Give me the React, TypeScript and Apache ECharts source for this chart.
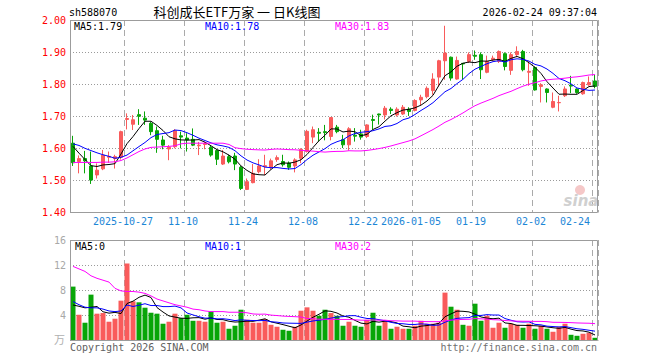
import React, { useEffect, useRef } from 'react';
import * as echarts from 'echarts';

const FONT = '"DejaVu Sans Mono", monospace';

const dates = [
  '2025-10-14','2025-10-15','2025-10-16','2025-10-17','2025-10-20','2025-10-21','2025-10-22','2025-10-23','2025-10-24','2025-10-27',
  '2025-10-28','2025-10-29','2025-10-30','2025-10-31','2025-11-03','2025-11-04','2025-11-05','2025-11-06','2025-11-07','2025-11-10',
  '2025-11-11','2025-11-12','2025-11-13','2025-11-14','2025-11-17','2025-11-18','2025-11-19','2025-11-20','2025-11-21','2025-11-24',
  '2025-11-25','2025-11-26','2025-11-27','2025-11-28','2025-12-01','2025-12-02','2025-12-03','2025-12-04','2025-12-05','2025-12-08',
  '2025-12-09','2025-12-10','2025-12-11','2025-12-12','2025-12-15','2025-12-16','2025-12-17','2025-12-18','2025-12-19','2025-12-22',
  '2025-12-23','2025-12-24','2025-12-25','2025-12-26','2025-12-29','2025-12-30','2025-12-31','2026-01-05','2026-01-06','2026-01-07',
  '2026-01-08','2026-01-09','2026-01-12','2026-01-13','2026-01-14','2026-01-15','2026-01-16','2026-01-19','2026-01-20','2026-01-21',
  '2026-01-22','2026-01-23','2026-01-26','2026-01-27','2026-01-28','2026-01-29','2026-01-30','2026-02-02','2026-02-03','2026-02-04',
  '2026-02-05','2026-02-06','2026-02-09','2026-02-10','2026-02-11','2026-02-12','2026-02-13','2026-02-24'
];

const opens = [
  1.616,1.559,1.568,1.545,1.517,1.536,1.572,1.568,1.572,1.690,
  1.675,1.705,1.694,1.678,1.655,1.626,1.598,1.605,1.639,1.632,
  1.628,1.608,1.612,1.603,1.593,1.551,1.574,1.576,1.541,1.472,
  1.493,1.527,1.543,1.540,1.565,1.559,1.554,1.545,1.569,1.590,
  1.635,1.650,1.652,1.637,1.666,1.627,1.611,1.641,1.645,1.637,
  1.690,1.707,1.704,1.722,1.704,1.707,1.722,1.718,1.751,1.761,
  1.780,1.822,1.873,1.884,1.816,1.865,1.871,1.890,1.892,1.837,
  1.876,1.871,1.895,1.843,1.892,1.902,1.837,1.852,1.793,1.785,
  1.728,1.742,1.764,1.797,1.785,1.770,1.798,1.810
];
const closes = [
  1.555,1.568,1.561,1.501,1.532,1.579,1.575,1.574,1.652,1.693,
  1.689,1.700,1.688,1.652,1.628,1.610,1.603,1.655,1.635,1.626,
  1.610,1.610,1.615,1.579,1.566,1.576,1.558,1.551,1.475,1.496,
  1.522,1.545,1.546,1.561,1.571,1.549,1.541,1.564,1.597,1.653,
  1.658,1.647,1.649,1.696,1.652,1.611,1.661,1.638,1.635,1.673,
  1.687,1.704,1.725,1.718,1.722,1.728,1.715,1.749,1.759,1.787,
  1.816,1.873,1.897,1.819,1.874,1.863,1.892,1.887,1.845,1.871,
  1.881,1.902,1.855,1.892,1.902,1.845,1.840,1.782,1.798,1.774,
  1.746,1.743,1.785,1.794,1.774,1.805,1.805,1.793
];
const lows = [
  1.545,1.522,1.522,1.489,1.506,1.532,1.555,1.537,1.565,1.659,
  1.657,1.673,1.673,1.641,1.586,1.597,1.563,1.600,1.600,1.590,
  1.607,1.579,1.597,1.574,1.548,1.548,1.553,1.532,1.470,1.470,
  1.491,1.522,1.517,1.534,1.558,1.543,1.533,1.525,1.554,1.587,
  1.616,1.621,1.625,1.625,1.647,1.601,1.593,1.621,1.627,1.632,
  1.658,1.674,1.690,1.707,1.699,1.704,1.701,1.715,1.735,1.756,
  1.767,1.793,1.814,1.811,1.814,1.816,1.866,1.876,1.816,1.834,
  1.871,1.866,1.843,1.829,1.884,1.840,1.795,1.780,1.743,1.743,
  1.725,1.715,1.760,1.772,1.770,1.767,1.795,1.787
];
const highs = [
  1.639,1.578,1.592,1.590,1.553,1.595,1.590,1.580,1.655,1.709,
  1.704,1.722,1.715,1.683,1.668,1.639,1.610,1.660,1.652,1.647,
  1.662,1.620,1.620,1.610,1.597,1.595,1.580,1.586,1.545,1.506,
  1.551,1.566,1.580,1.568,1.578,1.580,1.559,1.569,1.600,1.658,
  1.668,1.663,1.673,1.697,1.673,1.642,1.666,1.663,1.658,1.675,
  1.705,1.708,1.732,1.728,1.728,1.735,1.728,1.753,1.767,1.793,
  1.834,1.876,1.982,1.886,1.886,1.866,1.899,1.905,1.899,1.889,
  1.889,1.905,1.899,1.899,1.918,1.907,1.871,1.855,1.803,1.787,
  1.774,1.764,1.793,1.826,1.787,1.808,1.824,1.829
];

// volume, 万
const volumes = [
  8.58,4.10,2.83,7.30,4.27,4.37,2.99,3.47,6.34,12.26,
  6.24,6.08,5.22,4.42,4.27,2.67,2.99,4.27,3.57,4.10,
  3.14,3.14,2.99,4.64,2.83,2.99,1.87,2.35,4.90,3.30,
  2.83,2.83,3.41,2.50,2.19,1.71,1.55,2.19,4.74,5.28,
  4.74,3.94,4.90,4.37,3.94,2.35,2.99,2.35,2.19,3.30,
  4.42,2.35,3.14,1.87,2.19,1.87,1.87,2.35,3.14,2.67,
  2.67,2.83,7.62,5.38,4.90,2.50,2.35,5.86,3.14,3.94,
  2.03,2.83,2.03,2.67,2.50,2.03,2.67,1.87,2.35,1.87,
  1.39,2.19,2.67,0.91,0.75,1.07,1.23,0.43
];

// moving-average values before enough history is on screen
const priceMa5Lead = [1.606,1.585,1.565,1.546];
const priceMa10Lead = [1.614,1.609,1.600,1.593,1.586,1.580,1.575,1.569,1.572];
const priceMa30Lead = [
  1.556,1.556,1.556,1.556,1.556,1.557,1.557,1.558,1.562,1.570,
  1.580,1.590,1.598,1.603,1.604,1.605,1.606,1.608,1.614,1.616,
  1.616,1.616,1.616,1.616,1.616,1.616,1.612,1.602,1.599
];
const volMa5Lead = [5.65,5.45,5.2,5.3];
const volMa10Lead = [6.2,5.7,5.3,5.2,5.2,5.0,4.7,4.6,4.7];
const volMa30Lead = [
  11.8,11.4,11.0,10.3,9.9,9.6,9.3,8.3,7.9,7.8,
  7.8,7.7,7.5,7.1,6.6,6.3,6.0,5.7,5.5,5.3,
  5.0,4.9,4.7,4.6,4.6,4.6,4.5,4.5,4.5
];

const tickIndex = [9,19,29,39,49,57,67,77,87];
const tickLabels = ['2025-10-27','11-10','11-24','12-08','12-22','2026-01-05','01-19','02-02','02-24'];
const priceTicks = ['1.40','1.50','1.60','1.70','1.80','1.90','2.00'];
const volTicks = ['0','4','8','12','16'];

const headerCode = 'sh588070';
const headerTitle = '科创成长ETF万家 一 日K线图';
const headerTime = '2026-02-24 09:37:04';
const priceMaText = ['MA5:1.79','MA10:1.78','MA30:1.83'];
const volMaText = ['MA5:0','MA10:1','MA30:2'];

const RED = '#f95b5b';
const GREEN = '#08a508';

function movingAverage(values: number[], n: number, lead: number[]) {
  return values.map((_, i) => {
    if (i < n - 1) return lead[i];
    let s = 0;
    for (let k = i - n + 1; k <= i; k++) s += values[k];
    return +(s / n).toFixed(4);
  });
}

export default function App() {
  const ref = useRef<HTMLDivElement>(null);
  useEffect(() => {
    if (!ref.current) return;
    const chart = echarts.init(ref.current, null, { renderer: 'svg' });
    const candle = dates.map((_, i) => [opens[i], closes[i], lows[i], highs[i]]);
    const volData = volumes.map((v, i) => ({
      value: v,
      itemStyle: { color: closes[i] >= opens[i] ? RED : GREEN },
    }));
    const pMa5 = movingAverage(closes, 5, priceMa5Lead);
    const pMa10 = movingAverage(closes, 10, priceMa10Lead);
    const pMa30 = movingAverage(closes, 30, priceMa30Lead);
    const vMa5 = movingAverage(volumes, 5, volMa5Lead);
    const vMa10 = movingAverage(volumes, 10, volMa10Lead);
    const vMa30 = movingAverage(volumes, 30, volMa30Lead);

    const isTick = (i: number) => tickIndex.indexOf(i) >= 0;
    const vSplit = { show: true, interval: (i: number) => isTick(i), lineStyle: { color: '#aaaaaa', width: 1, type: [6, 4] } };
    const hSplit = { show: true, lineStyle: { color: '#9a9a9a', width: 1, type: [1, 2] } };
    const lineSeries = (data: number[], color: string, xi: number, yi: number) => ({
      type: 'line', data, xAxisIndex: xi, yAxisIndex: yi, showSymbol: false, symbol: 'none',
      lineStyle: { color, width: 1 }, silent: true, z: 5,
    });
    const txt = (x: number, y: number, text: string, fill: string, align = 'left', size = 10, family = FONT) => ({
      type: 'text', x, y, silent: true, z: 50,
      style: { text, fill, fontSize: size, fontFamily: family, align, textAlign: align, verticalAlign: 'middle', textVerticalAlign: 'middle' },
    });

    chart.setOption({
      animation: false,
      backgroundColor: '#ffffff',
      grid: [
        { left: 70, top: 20, width: 528, height: 192.5 },
        { left: 70, top: 240, width: 528, height: 100.5 },
      ],
      xAxis: [
        {
          type: 'category', gridIndex: 0, data: dates, boundaryGap: true,
          axisLine: { show: false }, axisTick: { show: false },
          splitLine: vSplit,
          axisLabel: {
            interval: (i: number) => isTick(i),
            margin: 4,
            formatter: (_v: string, i: number) => {
              const k = tickIndex.indexOf(i);
              if (k < 0) return '';
              return k === tickIndex.length - 1 ? `{b|${tickLabels[k]}}` : `{a|${tickLabels[k]}}`;
            },
            rich: {
              a: { padding: [0, 8, 0, 0], color: '#1c86d6', fontSize: 10, fontFamily: FONT },
              b: { padding: [0, 40, 0, 0], color: '#1c86d6', fontSize: 10, fontFamily: FONT },
            },
          },
        },
        {
          type: 'category', gridIndex: 1, data: dates, boundaryGap: true,
          axisLine: { show: false }, axisTick: { show: false }, axisLabel: { show: false },
          splitLine: vSplit,
        },
      ],
      yAxis: [
        {
          type: 'value', gridIndex: 0, min: 1.4, max: 2.0, interval: 0.1, scale: true,
          axisLine: { show: false }, axisTick: { show: false },
          axisLabel: {
            margin: 4, color: '#ff0000', fontSize: 10, fontFamily: FONT,
            formatter: (v: number) => priceTicks[Math.round((v - 1.4) * 10)] ?? v.toFixed(2),
          },
          splitLine: hSplit,
        },
        {
          type: 'value', gridIndex: 1, min: 0, max: 16, interval: 4,
          axisLine: { show: false }, axisTick: { show: false },
          axisLabel: {
            margin: 4, color: '#a8a8a8', fontSize: 10, fontFamily: FONT,
            formatter: (v: number) => (v === 0 ? '' : volTicks[Math.round(v / 4)]),
          },
          splitLine: hSplit,
        },
      ],
      series: [
        {
          type: 'candlestick', data: candle, xAxisIndex: 0, yAxisIndex: 0, barWidth: 4, silent: true,
          itemStyle: { color: RED, color0: GREEN, borderColor: RED, borderColor0: GREEN, borderWidth: 1 },
        },
        lineSeries(pMa5, '#000000', 0, 0),
        lineSeries(pMa10, '#0000ff', 0, 0),
        lineSeries(pMa30, '#ff00ff', 0, 0),
        { type: 'bar', data: volData, xAxisIndex: 1, yAxisIndex: 1, barWidth: 5, silent: true },
        lineSeries(vMa5, '#000000', 1, 1),
        lineSeries(vMa10, '#0000ff', 1, 1),
        lineSeries(vMa30, '#ff00ff', 1, 1),
      ],
      graphic: [
        { type: 'circle', shape: { cx: 580, cy: 190, r: 5 }, style: { fill: '#f5c8c8' }, silent: true, z: 1 },
        { type: 'text', x: 581, y: 201, silent: true, z: 1,
          style: { text: 'sina', fill: '#d0d0d0', fontSize: 15, fontWeight: 'bold', fontStyle: 'italic', fontFamily: 'DejaVu Sans',
            align: 'center', textAlign: 'center', verticalAlign: 'middle', textVerticalAlign: 'middle' } },
        { type: 'rect', shape: { x: 70.5, y: 20.5, width: 527, height: 192 }, style: { fill: 'none', stroke: '#9c9c9c', lineWidth: 1 }, silent: true, z: 60 },
        { type: 'rect', shape: { x: 70.5, y: 240.5, width: 527, height: 100 }, style: { fill: 'none', stroke: '#9c9c9c', lineWidth: 1 }, silent: true, z: 60 },
        txt(69, 12, headerCode, '#000000'),
        txt(237, 11.5, headerTitle, '#000000', 'center', 13, '"Noto Sans CJK SC", sans-serif'),
        txt(597, 12, headerTime, '#000000', 'right'),
        txt(74, 26.5, priceMaText[0], '#000000'),
        txt(205, 26.5, priceMaText[1], '#0000ff'),
        txt(335, 26.5, priceMaText[2], '#ff00ff'),
        txt(75, 246, volMaText[0], '#000000'),
        txt(205, 246, volMaText[1], '#0000ff'),
        txt(335, 246, volMaText[2], '#ff00ff'),
        txt(65, 339, '万', '#b0b0b0', 'right', 11, '"Noto Sans CJK SC", sans-serif'),
        txt(70, 347, 'Copyright 2026 SINA.COM', '#606060'),
        txt(597, 347, 'http://finance.sina.com.cn', '#707070', 'right'),
      ],
    });
    return () => chart.dispose();
  }, []);
  return <div ref={ref} style={{ position: 'fixed', left: 0, top: 0, width: 660, height: 360, background: '#fff' }} />;
}
